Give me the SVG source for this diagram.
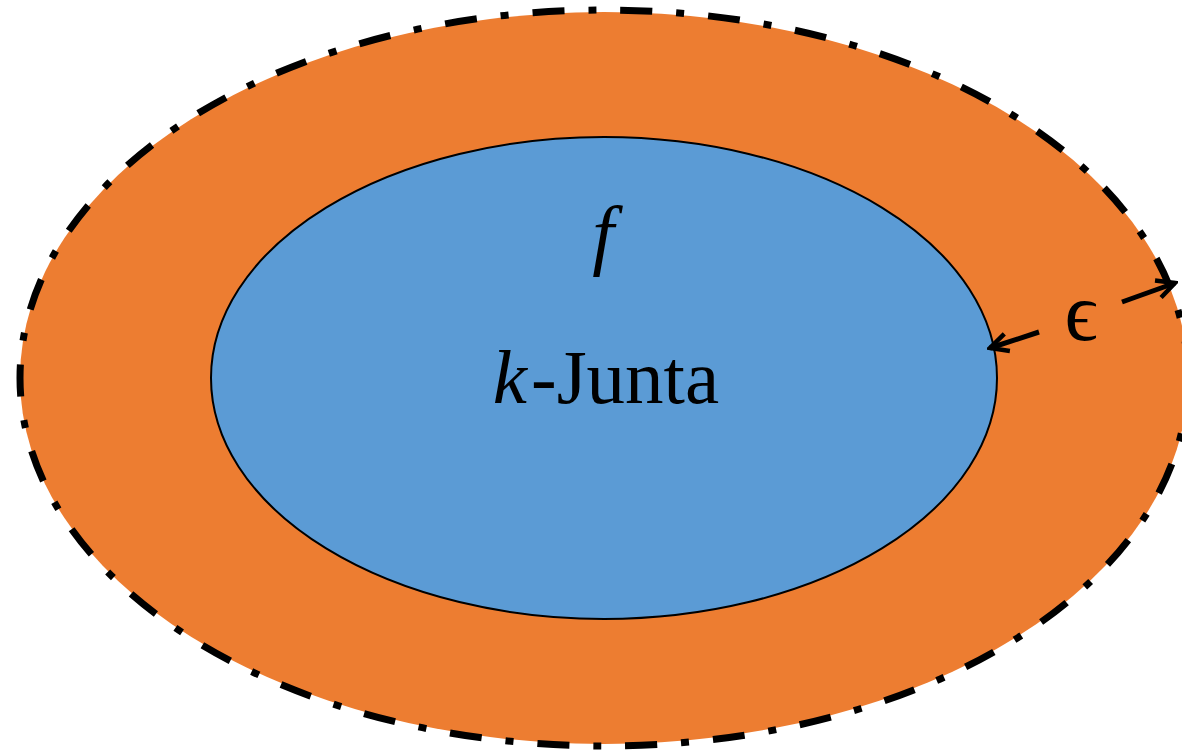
<svg xmlns="http://www.w3.org/2000/svg" width="1182" height="751" viewBox="0 0 1182 751">
<defs>
<style>
.lbl{font-family:"Liberation Serif","Times New Roman",serif;fill:#000}
.arr{stroke:#000;stroke-width:5;fill:none}
</style>
<marker id="ah" viewBox="0 0 24 24" refX="21" refY="12" markerWidth="24" markerHeight="24" markerUnits="userSpaceOnUse" orient="auto">
<path d="M3,3 L21,12 L3,21" fill="none" stroke="#000" stroke-width="4.5"/>
</marker>
</defs>
<rect width="1182" height="751" fill="#fff"/>
<g id="outer">
<ellipse cx="604" cy="378" rx="584" ry="366" fill="#ED7D31"/>
<ellipse cx="604" cy="378" rx="584" ry="368" fill="none" stroke="#000" stroke-width="7" stroke-dasharray="32 24 8 24"/>
</g>
<g id="inner">
<ellipse cx="604" cy="378" rx="393" ry="241" fill="#5B9BD5" stroke="#000" stroke-width="2"/>
<text class="lbl" x="603" y="260" font-size="78" font-style="italic" text-anchor="middle">f</text>
<text class="lbl" x="606" y="403" font-size="77" text-anchor="middle"><tspan font-style="italic">k</tspan><tspan dx="4">-Junta</tspan></text>
</g>
<g id="connectors">
<line class="arr" x1="1039" y1="332" x2="990" y2="348" marker-end="url(#ah)"/>
<line class="arr" x1="1122" y1="302" x2="1175" y2="283" marker-end="url(#ah)"/>
<text class="lbl" x="1081" y="340" font-size="82" text-anchor="middle">ϵ</text>
</g>
</svg>
